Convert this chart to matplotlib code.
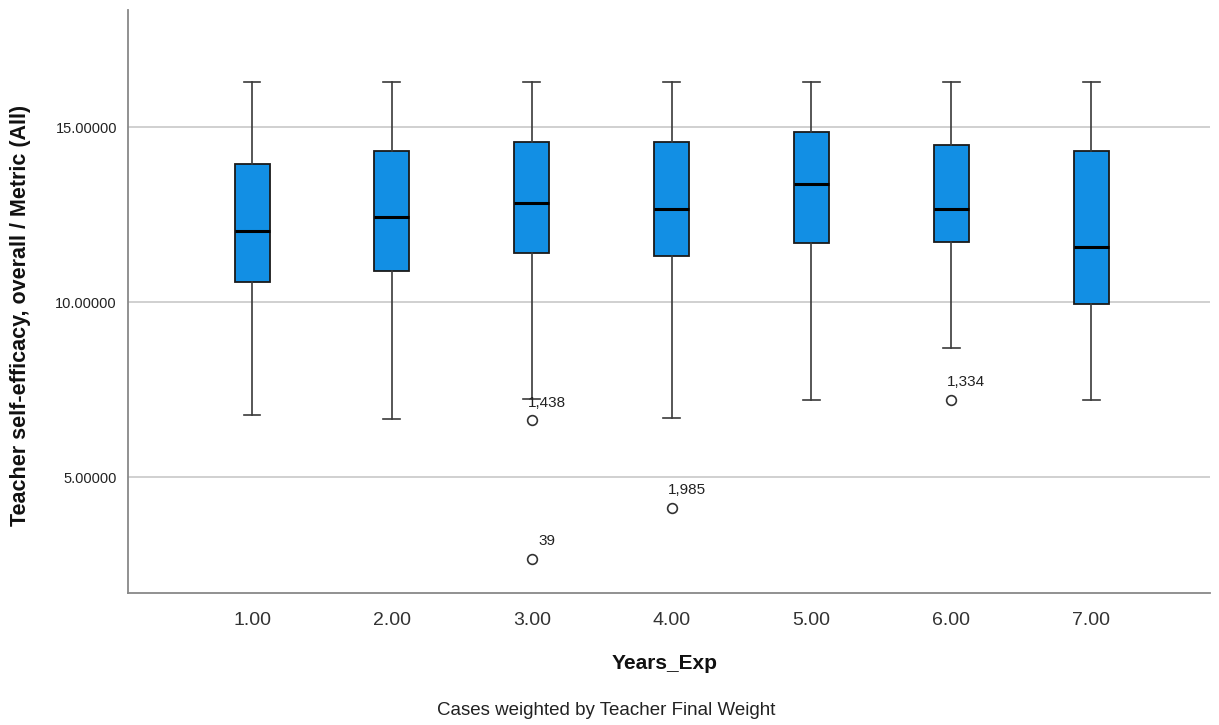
import matplotlib.pyplot as plt

plt.rcParams['font.family'] = ['Liberation Sans', 'DejaVu Sans']

# values
groups = ["1.00", "2.00", "3.00", "4.00", "5.00", "6.00", "7.00"]
whisker_hi = [16.29, 16.29, 16.29, 16.29, 16.29, 16.29, 16.29]
q3 = [13.94, 14.32, 14.57, 14.57, 14.85, 14.49, 14.33]
medians = [12.04, 12.44, 12.84, 12.65, 13.36, 12.66, 11.57]
q1 = [10.57, 10.89, 11.41, 11.31, 11.68, 11.72, 9.95]
whisker_lo = [6.78, 6.67, 7.22, 6.68, 7.20, 8.69, 7.20]

# outliers: (group index, value, case label)
outlier_group = [2, 2, 3, 5]
outlier_value = [6.63, 2.66, 4.11, 7.20]
outlier_label = ["1,438", "39", "1,985", "1,334"]

BLUE = "#128fe4"

fig = plt.figure(figsize=(12.19, 7.25), dpi=100)
ax = fig.add_axes([0.105, 0.182, 0.8876, 0.804])

stats = []
for i in range(len(groups)):
    fl = [v for g, v in zip(outlier_group, outlier_value) if g == i]
    stats.append(dict(med=medians[i], q1=q1[i], q3=q3[i],
                      whislo=whisker_lo[i], whishi=whisker_hi[i], fliers=fl))

pos = list(range(1, len(groups) + 1))
ax.bxp(stats, positions=pos, widths=0.25, patch_artist=True,
       boxprops=dict(facecolor=BLUE, edgecolor="#1a1a1a", linewidth=1.3),
       medianprops=dict(color="black", linewidth=2.2),
       whiskerprops=dict(color="#3a3a3a", linewidth=1.2),
       capprops=dict(color="#3a3a3a", linewidth=1.2),
       capwidths=0.12,
       flierprops=dict(marker="o", markersize=7, markerfacecolor="none",
                       markeredgecolor="#333333", markeredgewidth=1.2),
       zorder=3)

# case labels next to outliers
offsets = {"1,438": (-3, 7), "39": (5, 8), "1,985": (-3, 8), "1,334": (-3, 8)}
for g, v, lab in zip(outlier_group, outlier_value, outlier_label):
    ax.annotate(lab, (pos[g], v), xytext=offsets[lab], textcoords="offset points",
                fontsize=11, color="#222222", ha="left", va="bottom")

ax.set_xlim(0.113, 7.85)
ax.set_ylim(1.69, 18.34)
ax.set_yticks([5, 10, 15])
ax.set_yticklabels(["5.00000", "10.00000", "15.00000"])
ax.set_xticks(pos)
ax.set_xticklabels(groups)
ax.tick_params(axis="y", length=0, labelsize=10.5, labelcolor="#222222", pad=8)
ax.tick_params(axis="x", length=0, labelsize=14, labelcolor="#333333", pad=14)
ax.grid(axis="y", color="#c8c8c8", linewidth=1.2, zorder=0)
ax.set_axisbelow(True)

for s in ["top", "right"]:
    ax.spines[s].set_visible(False)
for s in ["left", "bottom"]:
    ax.spines[s].set_color("#888888")
    ax.spines[s].set_linewidth(1.3)

fig.text(0.545, 0.085, "Years_Exp", fontsize=15, fontweight="bold",
         ha="center", va="center", color="#111111")
fig.text(0.017, 0.565, "Teacher self-efficacy, overall / Metric (All)",
         fontsize=15.5, fontweight="bold", rotation=90,
         ha="center", va="center", color="#111111")
fig.text(0.497, 0.02, "Cases weighted by Teacher Final Weight",
         fontsize=13.5, ha="center", va="center", color="#222222")

fig.savefig("out.png", dpi=100, facecolor="white")
